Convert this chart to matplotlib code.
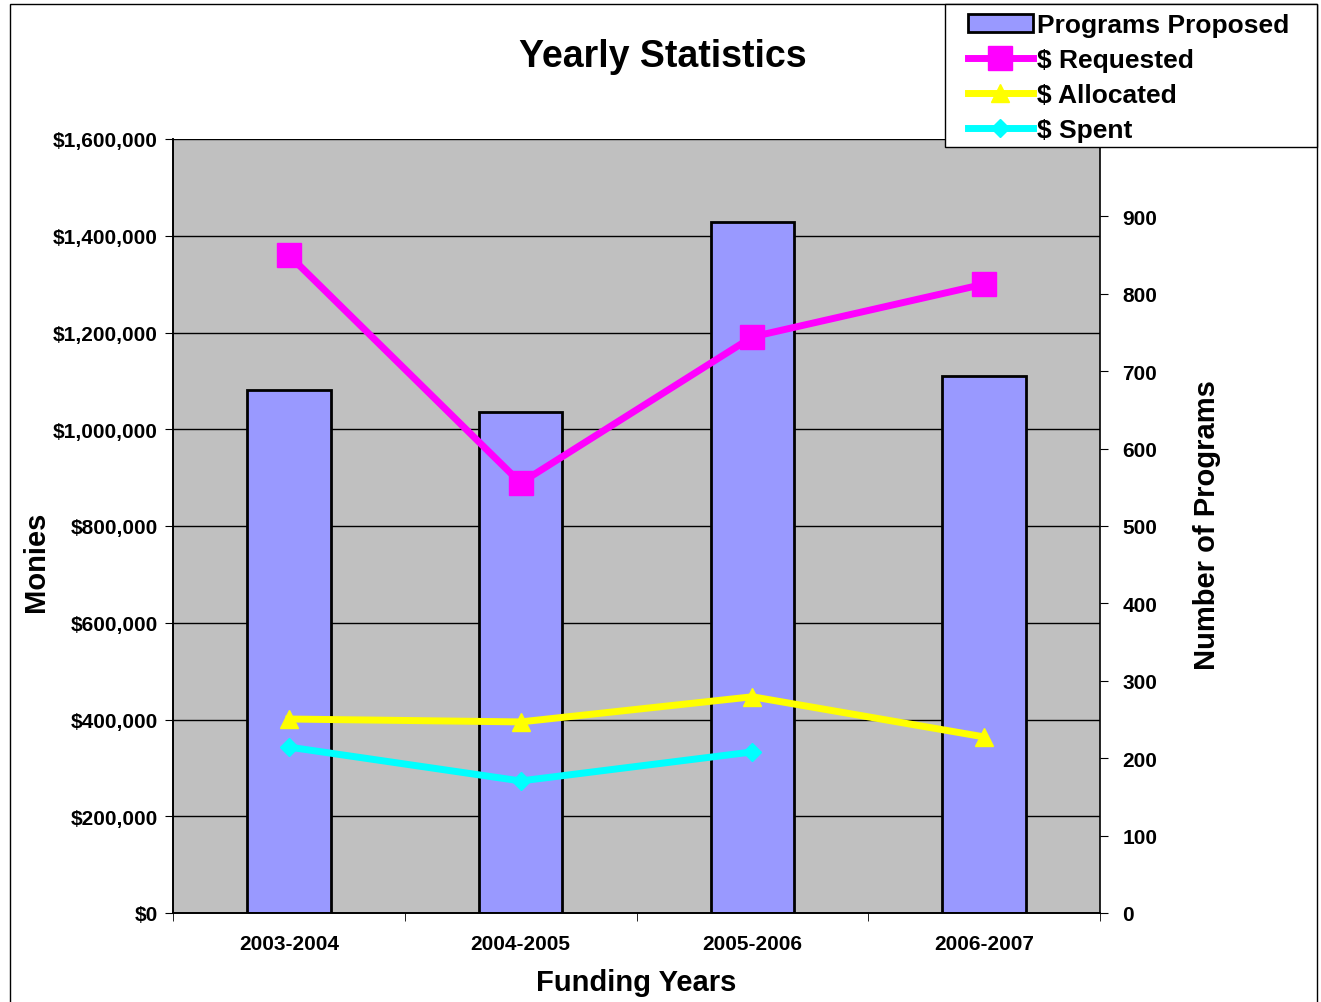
import numpy as np
import matplotlib
matplotlib.use("Agg")
import matplotlib.pyplot as plt
from matplotlib.patches import Rectangle
from matplotlib.ticker import FuncFormatter

plt.rcParams['font.family'] = ['Liberation Sans', 'DejaVu Sans']
plt.rcParams['font.weight'] = 'bold'

years = ["2003-2004", "2004-2005", "2005-2006", "2006-2007"]
programs = [676, 647, 893, 694]
requested = [1360000, 889000, 1191000, 1300000]
allocated = [401000, 395000, 447000, 364000]
spent = [343000, 273000, 333000, np.nan]

W, H = 1321, 1003
fig = plt.figure(figsize=(W / 100, H / 100), dpi=100)
# outer chart border
fig.patches.append(Rectangle((10 / W, -0.01), 1307 / W, 1 - 5 / H + 0.01,
                             transform=fig.transFigure, fill=False,
                             edgecolor='black', linewidth=1))

ax = fig.add_axes([173 / W, 89 / H, 927 / W, 774 / H])
ax2 = ax.twinx()
ax.set_zorder(2)
ax2.set_zorder(1)
ax.patch.set_visible(False)
ax2.patch.set_visible(True)
ax2.patch.set_facecolor('#C0C0C0')

x = np.arange(len(years))
bars = ax2.bar(x, programs, width=0.36, color='#9999FF', edgecolor='black',
               linewidth=2, label='Programs Proposed')
ax2.set_ylim(0, 1000)
ax2.set_yticks(np.arange(0, 901, 100))
ax2.set_ylabel('Number of Programs', fontsize=21, fontweight='bold')
ax2.yaxis.set_label_coords(1.100, 0.503)

# horizontal gridlines at the money ticks, behind the bars
for v in np.arange(200000, 1600001, 200000):
    ax2.axhline(v / 1600, color='black', linewidth=1, zorder=0.5)

l1, = ax.plot(x, requested, color='#FF00FF', lw=5, marker='s', ms=17,
              label='$ Requested')
l2, = ax.plot(x, allocated, color='#FFFF00', lw=5, marker='^', ms=13,
              label='$ Allocated')
l3, = ax.plot(x, spent, color='#00FFFF', lw=5, marker='D', ms=9,
              label='$ Spent')

ax.set_xlim(-0.5, 3.5)
ax.set_ylim(0, 1600000)
ax.set_yticks(np.arange(0, 1600001, 200000))
ax.yaxis.set_major_formatter(FuncFormatter(lambda v, p: '${:,.0f}'.format(v)))
ax.set_xticks(x)
ax.set_xticklabels(years)
ax.set_xticks(np.arange(-0.5, 3.6, 1), minor=True)
ax.tick_params(axis='x', which='major', length=0, pad=15, labelsize=15)
ax.tick_params(axis='x', which='minor', length=6, direction='out')
ax.tick_params(axis='y', labelsize=15, length=6, direction='out', pad=5)
ax2.tick_params(axis='y', labelsize=15, length=6, direction='out', pad=10)

ax.set_xlabel('Funding Years', fontsize=21, fontweight='bold', labelpad=11)
ax.set_ylabel('Monies', fontsize=21, fontweight='bold')
ax.yaxis.set_label_coords(-0.133, 0.455)
for a in (ax, ax2):
    for s in a.spines.values():
        s.set_linewidth(1.2)
ax.spines['top'].set_visible(False)
ax.spines['right'].set_visible(False)
ax2.spines['top'].set_visible(False)

fig.text(663 / W, 1 - 57 / H, 'Yearly Statistics', ha='center', va='center',
         fontsize=27, fontweight='bold')

# legend box drawn separately so the side padding can be wider than the top
fig.patches.append(Rectangle((945 / W, 1 - 148 / H), 372 / W, 143 / H,
                             transform=fig.transFigure, facecolor='white',
                             edgecolor='black', linewidth=1, zorder=9))
leg = fig.legend(handles=[bars, l1, l2, l3],
                 labels=['Programs Proposed', '$ Requested', '$ Allocated', '$ Spent'],
                 loc='upper left', bbox_to_anchor=(968 / W, 1 - 14 / H),
                 fontsize=19, frameon=False, borderpad=0,
                 labelspacing=0.42, handlelength=2.45, handletextpad=0.15,
                 borderaxespad=0)
leg.set_zorder(10)

fig.savefig('out.png', dpi=100)
